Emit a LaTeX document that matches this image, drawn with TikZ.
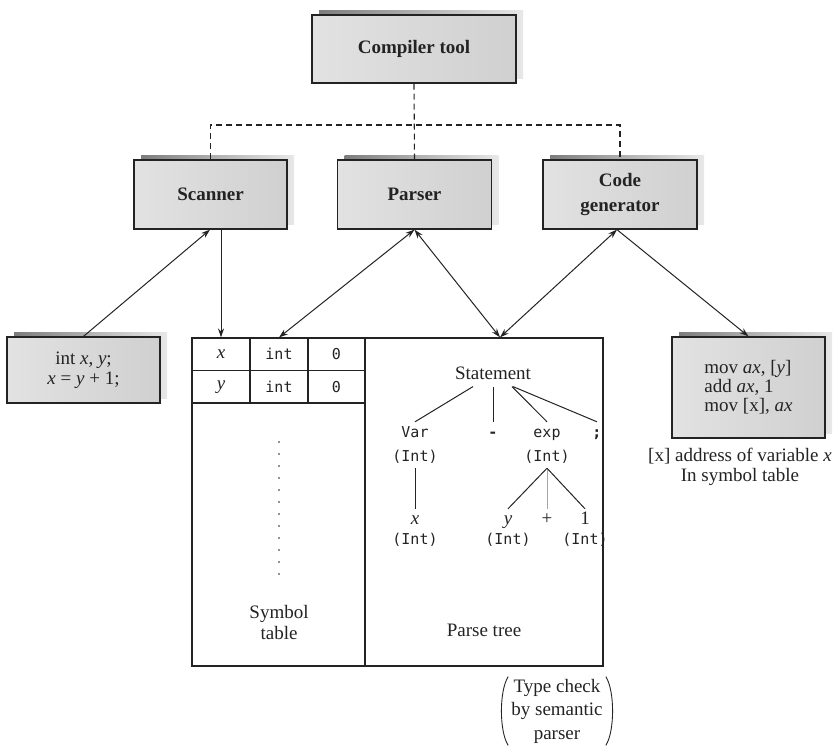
\documentclass[tikz,border=0pt]{standalone}
\usepackage{fontspec}
\setmainfont{Liberation Serif}
\setmonofont{DejaVu Sans Mono}
\usepackage{xcolor}
\usepackage{tikz}
\usetikzlibrary{arrows.meta, positioning, calc, shadows}
\definecolor{ink}{RGB}{35, 35, 35}
\definecolor{boxleft}{RGB}{226, 226, 226}
\definecolor{boxmid}{RGB}{242, 242, 242}
\definecolor{boxright}{RGB}{208, 208, 208}
\definecolor{backdark}{RGB}{125, 125, 125}
\definecolor{backlight}{RGB}{232, 232, 232}
\newcommand{\labelfont}{\fontsize{19}{23}\selectfont}
\newcommand{\codefont}{\fontsize{15}{20}\selectfont\ttfamily}

\begin{document}
\begin{tikzpicture}[x=1pt, y=-1pt, >={Stealth[length=9pt, width=6pt]},
  every node/.style={text=ink, font=\labelfont},
  toolbox/.style={draw=ink, line width=1.3pt, left color=boxleft,
    middle color=boxmid, right color=boxright, align=center, inner sep=0pt,
    general shadow={draw=none, shadow xshift=7pt, shadow yshift=5pt,
      left color=backdark, right color=backlight}},
  cell/.style={draw=ink, line width=1.1pt, minimum width=58pt,
    minimum height=32.5pt, inner sep=0pt},
  tleaf/.style={font=\codefont, text height=11pt, text depth=3pt, inner sep=4pt},
  link/.style={draw=ink, line width=1pt},
  bus/.style={draw=ink, line width=1.1pt, dash pattern=on 6pt off 4pt}]
  \useasboundingbox (0,0) rectangle (840,745);

  % tool boxes
  \node[toolbox, minimum width=204pt, minimum height=68pt,
        font=\labelfont\bfseries] (comp) at (414,49) {Compiler tool};
  \node[toolbox, minimum width=153pt, minimum height=69pt,
        font=\labelfont\bfseries] (scan) at (210.5,194.5) {Scanner};
  \node[toolbox, minimum width=154pt, minimum height=69pt,
        font=\labelfont\bfseries] (pars) at (414.5,194.5) {Parser};
  \node[toolbox, minimum width=154pt, minimum height=69pt,
        font=\fontsize{19}{25}\selectfont\bfseries] (cgen) at (620,194.5)
    {Code\\generator};

  % dashed bus from the compiler tool
  \draw[bus] (comp.south) -- (pars.north);
  \coordinate (busy) at (414,125);
  \draw[bus] (scan.north) |- (busy) -| (cgen.north);

  % source and target code
  \node[toolbox, minimum width=153pt, minimum height=66pt,
        font=\fontsize{19}{20}\selectfont] (src) at (83.5,370)
    {int \textit{x}, \textit{y};\\\textit{x} = \textit{y} + 1;};
  \node[toolbox, minimum width=153pt, minimum height=101pt, align=left,
        font=\fontsize{19}{19}\selectfont] (asm) at (748.5,387.5)
    {mov \textit{ax}, [\textit{y}]\\add \textit{ax}, 1\\mov [x], \textit{ax}};
  \node[align=center, font=\fontsize{19}{20}\selectfont] (asmnote) at (740,467)
    {[x] address of variable \textit{x}\\In symbol table};

  % symbol table and parse tree frames
  \node[draw=ink, line width=1.3pt, minimum width=173pt, minimum height=328pt]
    (symtab) at (278.5,502) {};
  \node[draw=ink, line width=1.3pt, minimum width=238pt, minimum height=328pt]
    (ptree) at (484,502) {};

  % symbol table rows
  \node[cell] (cx) at (221,354.25) {\textit{x}};
  \node[cell, font=\codefont] (cint) at (279,354.25) {int};
  \node[cell, font=\codefont, minimum width=57pt] (czero) at (336.5,354.25) {0};
  \node[cell] (cy) at (221,386.75) {\textit{y}};
  \node[cell, font=\codefont] (cyint) at (279,386.75) {int};
  \node[cell, font=\codefont, minimum width=57pt] (cyzero) at (336.5,386.75) {0};
  \draw[ink, line width=1.6pt, line cap=round, dash pattern=on 0pt off 12pt]
    (279,442) -- (279,578);
  \node[align=center, font=\fontsize{19}{21}\selectfont] (symlbl) at (279,622)
    {Symbol\\table};

  % parse tree
  \node[inner xsep=2pt, inner ysep=7pt] (stmt) at (493,373) {Statement};
  \node[tleaf] (var) at (415,433) {Var};
  \node[tleaf] (vart) at (415,457) {(Int)};
  \node[tleaf, font=\codefont\bfseries] (eq) at (493,433) {-};
  \node[tleaf] (exp) at (547,433) {exp};
  \node[tleaf] (expt) at (547,457) {(Int)};
  \node[tleaf, font=\codefont\bfseries] (semi) at (597,433) {;};
  \node[tleaf, font=\labelfont\itshape] (xl) at (415,520) {x};
  \node[tleaf] (xlt) at (415,540) {(Int)};
  \node[tleaf, font=\labelfont\itshape] (yl) at (508,520) {y};
  \node[tleaf] (ylt) at (508,540) {(Int)};
  \node[tleaf, font=\labelfont] (plus) at (547,520) {+};
  \node[tleaf, font=\labelfont] (onel) at (585,520) {1};
  \node[tleaf] (onelt) at (585,540) {(Int)};
  \draw[link] ([xshift=-20pt]stmt.south) -- (var.north);
  \draw[link] (stmt.south) -- (eq.north);
  \draw[link] ([xshift=19pt]stmt.south) -- (exp.north);
  \draw[link] ([xshift=20pt]stmt.south) -- (semi.north);
  \draw[link] (vart.south) -- (xl.north);
  \draw[link] (expt.south) -- (yl.north);
  \draw[link, draw=gray!70] (expt.south) -- (plus.north);
  \draw[link] (expt.south) -- (onel.north);
  \node (ptlbl) at (484,630) {Parse tree};

  % type check note in round brackets
  \node[align=center, font=\fontsize{19}{23.5}\selectfont, inner xsep=9pt,
        inner ysep=2pt] (semnote) at (557,711) {Type check\\by semantic\\parser};
  \draw[ink, line width=0.9pt] ([xshift=6pt]semnote.north west)
    .. controls ([xshift=-3pt, yshift=-14pt]semnote.north west)
    and ([xshift=-3pt, yshift=14pt]semnote.south west)
    .. ([xshift=6pt]semnote.south west);
  \draw[ink, line width=0.9pt] ([xshift=-6pt]semnote.north east)
    .. controls ([xshift=3pt, yshift=-14pt]semnote.north east)
    and ([xshift=3pt, yshift=14pt]semnote.south east)
    .. ([xshift=-6pt]semnote.south east);

  % connectors between the tools and their data
  \draw[link, ->] (src.north) -- ([xshift=-0.5pt]scan.south);
  \draw[link, ->] (scan.south -| cx.north) -- (cx.north);
  \draw[link, <->] (pars.south) -- (cint.north);
  \draw[link, <->] (pars.south) -- ([xshift=16pt]ptree.north);
  \draw[link, <->] ([xshift=-3pt]cgen.south) -- ([xshift=16pt]ptree.north);
  \draw[link, ->] ([xshift=-3pt]cgen.south) -- (asm.north);
\end{tikzpicture}
\end{document}
